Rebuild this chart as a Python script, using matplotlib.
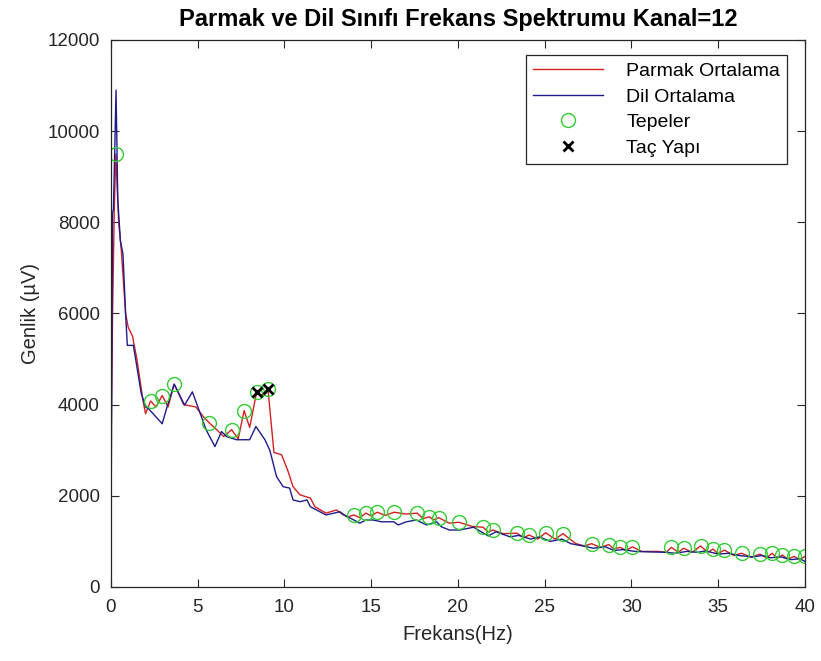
import matplotlib.pyplot as plt
import numpy as np

plt.rcParams["font.family"] = ["Liberation Sans", "DejaVu Sans"]

# Parmak (finger) class average spectrum
parmak_f = [0.0, 0.1, 0.2, 0.29, 0.45, 0.6, 0.85, 1.0, 1.25, 1.5, 1.85, 2.0, 2.29, 2.6,
            2.96, 3.3, 3.65, 4.2, 4.9, 5.3, 5.67, 6.1, 6.5, 6.96, 7.34, 7.68, 8.0, 8.4,
            8.7, 9.05, 9.4, 9.84, 10.2, 10.5, 10.9, 11.5, 11.76, 12.4, 13.0, 13.4, 13.7,
            14.0, 14.35, 14.7, 15.0, 15.35, 15.8, 16.33, 17.0, 17.65, 18.0, 18.35, 18.6,
            18.9, 19.5, 20.06, 20.8, 21.46, 21.75, 22.0, 22.6, 23.4, 23.8, 24.1, 24.6,
            25.05, 25.6, 26.05, 26.8, 27.3, 27.7, 28.2, 28.7, 29.0, 29.35, 29.7, 30.05,
            30.6, 31.5, 32.0, 32.3, 32.7, 33.0, 33.5, 33.98, 34.4, 34.7, 35.0, 35.35,
            35.9, 36.35, 36.9, 37.4, 37.8, 38.1, 38.4, 38.7, 39.0, 39.37, 39.7, 40.0]
parmak_amp = [2700, 6000, 8300, 9500, 8000, 7400, 6000, 5700, 5500, 5000, 4100, 3800, 4080, 3950,
              4200, 3950, 4450, 4000, 3950, 3750, 3600, 3450, 3300, 3450, 3250, 3870, 3500, 4270,
              4200, 4350, 2950, 2900, 2550, 2200, 2020, 1950, 1760, 1620, 1690, 1580, 1540,
              1580, 1520, 1620, 1560, 1640, 1570, 1640, 1600, 1620, 1500, 1540, 1470,
              1520, 1400, 1420, 1330, 1310, 1200, 1250, 1170, 1180, 1080, 1140, 1050,
              1190, 1050, 1170, 950, 900, 950, 870, 930, 830, 870, 800, 880,
              780, 780, 760, 870, 760, 850, 760, 900, 760, 830, 730, 810,
              690, 740, 650, 720, 640, 740, 630, 700, 610, 670, 600, 670]

# Dil (tongue) class average spectrum
dil_f = [0.0, 0.1, 0.15, 0.3, 0.4, 0.55, 0.7, 0.85, 0.95, 1.3, 1.75, 2.0, 2.2, 2.96,
         3.2, 3.65, 4.25, 4.7, 5.5, 6.0, 6.38, 6.67, 7.24, 8.0, 8.36, 8.88, 9.16, 9.55,
         9.93, 10.3, 10.5, 10.9, 11.3, 11.5, 12.4, 13.2, 13.6, 13.8, 14.35, 14.7, 15.1,
         15.6, 16.3, 16.56, 17.04, 17.6, 18.2, 18.77, 19.05, 19.5, 20.1, 20.9, 21.75,
         22.2, 23.0, 23.5, 24.2, 24.7, 25.3, 26.0, 26.5, 27.2, 27.8, 28.5, 29.0, 29.5,
         30.2, 31.0, 32.0, 32.5, 33.2, 33.8, 34.3, 35.0, 35.6, 36.2, 37.0, 37.5, 38.0,
         38.6, 39.2, 39.7, 40.0]
dil_amp = [300, 8200, 8300, 10900, 8500, 7600, 7300, 6000, 5300, 5300, 4250, 3950, 3900, 3580,
           3900, 4450, 3990, 4280, 3440, 3080, 3410, 3300, 3230, 3230, 3520, 3230, 3000, 2420,
           2200, 2170, 1910, 1870, 1910, 1760, 1580, 1650, 1540, 1510, 1400, 1470, 1470,
           1430, 1430, 1360, 1430, 1470, 1360, 1430, 1320, 1250, 1250, 1310, 1120,
           1210, 1100, 1130, 1050, 1100, 1000, 1050, 950, 900, 850, 880, 800, 820,
           780, 770, 760, 740, 780, 760, 790, 720, 740, 690, 660, 690, 640,
           660, 600, 620, 560]

# detected peaks (on Parmak curve) and the crown structure peaks
tepe_f = [0.29, 2.29, 2.96, 3.65, 5.67, 6.96, 7.68, 8.4, 9.05, 14.0, 14.7, 15.35, 16.33,
          17.65, 18.35, 18.9, 20.06, 21.46, 22.0, 23.4, 24.1, 25.05, 26.05, 27.7, 28.7,
          29.35, 30.05, 32.3, 33.0, 33.98, 34.7, 35.35, 36.35, 37.4, 38.1, 38.7, 39.37, 40.0]
tac_f = [8.4, 9.05]

parmak_f = np.array(parmak_f)
parmak_amp = np.array(parmak_amp)
tepe_idx = [int(np.argmin(np.abs(parmak_f - f))) for f in tepe_f]
tac_idx = [int(np.argmin(np.abs(parmak_f - f))) for f in tac_f]

fig = plt.figure(figsize=(8.21, 6.61), dpi=100)
ax = fig.add_axes([0.135, 0.112, 0.8455, 0.8275])

ax.plot(parmak_f, parmak_amp, color="#d42020", lw=1.0, label="Parmak Ortalama")
ax.plot(dil_f, dil_amp, color="#1c1c8c", lw=1.0, label="Dil Ortalama")
ax.plot(parmak_f[tepe_idx], parmak_amp[tepe_idx], "o", mfc="none", mec="#33cc33",
        ms=10, mew=1.0, label="Tepeler")
ax.plot(parmak_f[tac_idx], parmak_amp[tac_idx], "x", color="black", ms=7, mew=2.0,
        label="Taç Yapı")

ax.set_xlim(0, 40)
ax.set_ylim(0, 12000)
ax.set_xticks(np.arange(0, 41, 5))
ax.set_yticks(np.arange(0, 12001, 2000))
ax.tick_params(direction="in", length=6, top=True, right=True, labelsize=13.5,
               colors="#262626")
ax.tick_params(axis="y", pad=8)
ax.tick_params(axis="x", pad=9)
for s in ax.spines.values():
    s.set_color("#262626")
    s.set_linewidth(0.9)

ax.set_xlabel("Frekans(Hz)", fontsize=14.5, color="#262626", labelpad=6)
ax.set_ylabel("Genlik (µV)", fontsize=14.5, color="#262626", labelpad=5)
ax.set_title("Parmak ve Dil Sınıfı Frekans Spektrumu Kanal=12", fontsize=17,
             fontweight="bold", pad=10)

leg = ax.legend(loc="upper right", bbox_to_anchor=(0.974, 0.972), borderaxespad=0,
                fontsize=14, fancybox=False, framealpha=1, edgecolor="#262626",
                handlelength=3.6, handletextpad=1.2, labelspacing=0.42, borderpad=0.35)
leg.get_frame().set_linewidth(0.9)

fig.savefig("out.png", dpi=100)
